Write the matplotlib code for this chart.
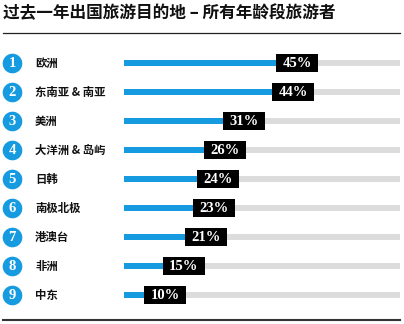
import matplotlib
matplotlib.use('Agg')
import matplotlib.pyplot as plt
import matplotlib.transforms as mtransforms

plt.rcParams['font.family'] = ['Noto Sans CJK SC', 'DejaVu Sans']

title = '过去一年出国旅游目的地 – 所有年龄段旅游者'
regions = ['欧洲', '东南亚 & 南亚', '美洲', '大洋洲 & 岛屿', '日韩',
           '南极北极', '港澳台', '非洲', '中东']
share = [45, 44, 31, 26, 24, 23, 21, 15, 10]
ranks = list(range(1, len(regions) + 1))

BLUE = '#169be0'
GREY = '#dcdcdc'

W, H = 404, 324
fig = plt.figure(figsize=(W / 100, H / 100), dpi=100)

# bar area in pixels: x 124..400, y 48..310 (from top)
ax = fig.add_axes([124 / W, (H - 310) / H, 276 / W, 262 / H])
ax.set_xlim(4.7, 77.9)
ax.set_ylim(8.517, -0.517)
ax.axis('off')

ypos = list(range(len(regions)))
px = 3.77  # pixels per percent point
box_w = 42 / px

ax.barh(ypos, [100] * len(ypos), left=0, height=0.24, color=GREY, zorder=1)
ax.barh(ypos, share, left=0, height=0.24, color=BLUE, zorder=2)
ax.barh(ypos, [box_w] * len(ypos), left=share, height=0.62, color='black', zorder=3)
for y, v in zip(ypos, share):
    ax.text(v + box_w / 2, y + 0.02, f'{v}%', color='white', ha='center', va='center',
            fontsize=10.5, fontweight='bold', family='Liberation Serif', zorder=4)

tr = mtransforms.blended_transform_factory(fig.transFigure, ax.transData)
ax.scatter([12 / W] * len(ypos), ypos, s=200, color=BLUE, transform=tr,
           clip_on=False, zorder=5, linewidths=0)
for y, r, name in zip(ypos, ranks, regions):
    ax.text(12 / W, y + 0.02, str(r), transform=tr, color='white', ha='center',
            va='center', fontsize=10.5, fontweight='bold', family='Liberation Serif',
            clip_on=False, zorder=6)
    ax.text(35 / W, y, name, transform=tr, color='#111111', ha='left',
            va='center', fontsize=8.2, fontweight='bold', clip_on=False)

fig.text(3 / W, 1 - 13 / H, title, ha='left', va='center', fontsize=12,
         fontweight='bold', color='#111111')
fig.add_artist(plt.Line2D([3 / W, 400 / W], [1 - 33 / H] * 2, color='#222222',
                          lw=0.9, transform=fig.transFigure))
fig.add_artist(plt.Line2D([3 / W, 400 / W], [1 - 320 / H] * 2, color='#333333',
                          lw=1.5, transform=fig.transFigure))

fig.savefig('out.png', dpi=100)
